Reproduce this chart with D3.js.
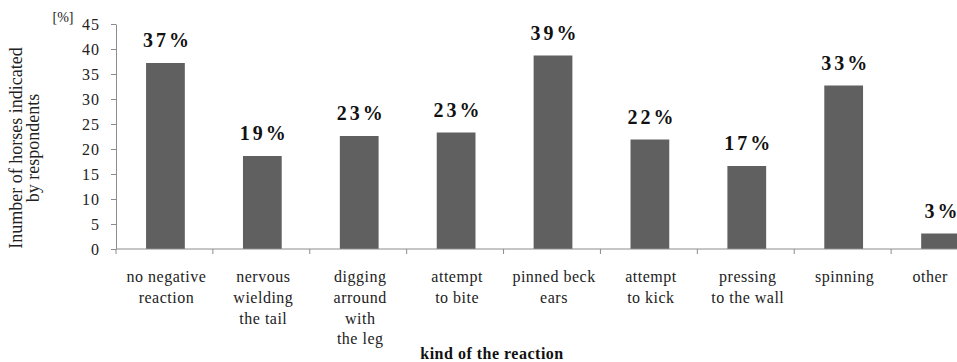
<!DOCTYPE html>
<html>
<head>
<meta charset="utf-8">
<script src="https://cdn.jsdelivr.net/npm/d3@7/dist/d3.min.js"></script>
<style>
  html, body { margin: 0; padding: 0; background: #fff; }
  svg { display: block; }
</style>
</head>
<body>
<svg id="chart" width="957" height="362"></svg>
<script>
// Reactions of horses, share of animals indicated by respondents
const categories = [
  "no negative reaction",
  "nervous wielding the tail",
  "digging arround with the leg",
  "attempt to bite",
  "pinned beck ears",
  "attempt to kick",
  "pressing to the wall",
  "spinning",
  "other"
];
// Axis label lines for each category
const categoryLines = [
  ["no negative", "reaction"],
  ["nervous", "wielding", "the tail"],
  ["digging", "arround", "with", "the leg"],
  ["attempt", "to bite"],
  ["pinned beck", "ears"],
  ["attempt", "to kick"],
  ["pressing", "to the wall"],
  ["spinning"],
  ["other"]
];
const values = [37.2, 18.6, 22.6, 23.3, 38.7, 21.9, 16.6, 32.7, 3.1];
const yTicks = [0, 5, 10, 15, 20, 25, 30, 35, 40, 45];

const SERIF = '"Liberation Serif", "Times New Roman", "DejaVu Serif", serif';
const labelLimit = 948; // category labels stay left of this edge

const svg = d3.select("#chart");

const plotLeft = 116, plotRight = 988, plotTop = 24, plotBottom = 249;

const x = d3.scaleBand().domain(categories).range([plotLeft, plotRight]).padding(0);
const xBar = d3.scaleBand().domain(categories).range([plotLeft, plotRight])
  .paddingInner(0.6).paddingOuter(0.3);
const y = d3.scaleLinear().domain([0, 45]).range([plotBottom, plotTop]);

// bars
svg.append("g").selectAll("rect")
  .data(values)
  .join("rect")
  .attr("x", (d, i) => xBar(categories[i]) + 1)
  .attr("y", d => y(d))
  .attr("width", xBar.bandwidth())
  .attr("height", d => y(0) - y(d))
  .attr("fill", "#606060");

// y axis
const yAxis = svg.append("g")
  .attr("transform", `translate(${plotLeft},0)`)
  .call(d3.axisLeft(y).tickValues(yTicks).tickSize(5).tickSizeOuter(0).tickPadding(11));
yAxis.select(".domain").attr("stroke", "#8c8c8c");
yAxis.selectAll(".tick line").attr("stroke", "#8c8c8c");
yAxis.selectAll(".tick text")
  .style("font-family", SERIF)
  .style("font-size", "16px")
  .style("letter-spacing", "1px")
  .attr("fill", "#222");

// x axis: ticks at category boundaries
const xAxisG = svg.append("g");
xAxisG.append("line")
  .attr("x1", plotLeft).attr("x2", plotRight)
  .attr("y1", y(0)).attr("y2", y(0))
  .attr("stroke", "#8c8c8c");
xAxisG.selectAll("line.tk")
  .data(categories.concat([null]))
  .join("line")
  .attr("class", "tk")
  .attr("x1", (d, i) => plotLeft + i * x.step())
  .attr("x2", (d, i) => plotLeft + i * x.step())
  .attr("y1", y(0)).attr("y2", y(0) + 5)
  .attr("stroke", "#8c8c8c");

// category labels, kept inside the drawing area
const catG = svg.append("g").selectAll("text")
  .data(categoryLines)
  .join("text")
  .attr("text-anchor", "middle")
  .style("font-family", SERIF)
  .style("font-size", "16px")
  .style("letter-spacing", "0.5px")
  .attr("fill", "#222");
catG.each(function (lines, i) {
  const t = d3.select(this);
  let cx = x(categories[i]) + x.bandwidth() / 2 + 2;
  t.selectAll("tspan")
    .data(lines)
    .join("tspan")
    .attr("x", cx)
    .attr("y", (d, j) => 282 + j * 20.8)
    .text(d => d);
  const bb = this.getBBox();
  if (bb.x + bb.width > labelLimit) {
    cx -= bb.x + bb.width - labelLimit;
    t.selectAll("tspan").attr("x", cx);
  }
});

// value labels
svg.append("g").selectAll("text")
  .data(values)
  .join("text")
  .attr("x", (d, i) => xBar(categories[i]) + 1 + xBar.bandwidth() / 2 + 2)
  .attr("y", d => y(d) - 16)
  .attr("text-anchor", "middle")
  .style("font-family", SERIF)
  .style("font-size", "20px")
  .style("font-weight", "bold")
  .style("letter-spacing", "3px")
  .attr("fill", "#111")
  .text(d => Math.round(d) + "%");

// unit label
svg.append("text")
  .attr("x", 63).attr("y", 22)
  .attr("text-anchor", "middle")
  .style("font-family", SERIF)
  .style("font-size", "14px")
  .attr("fill", "#222")
  .text("[%]");

// y axis title
const yTitle = svg.append("text")
  .attr("transform", "translate(0,148) rotate(-90)")
  .attr("text-anchor", "middle")
  .style("font-family", SERIF)
  .style("font-size", "18px")
  .attr("fill", "#222");
yTitle.append("tspan").attr("x", 0).attr("y", 22).text("Inumber of horses indicated");
yTitle.append("tspan").attr("x", 0).attr("y", 39).text("by respondents");

// x axis title
svg.append("text")
  .attr("x", 492).attr("y", 359)
  .attr("text-anchor", "middle")
  .style("font-family", SERIF)
  .style("font-size", "16px")
  .style("font-weight", "bold")
  .style("letter-spacing", "0.5px")
  .attr("fill", "#111")
  .text("kind of the reaction");
</script>
</body>
</html>
